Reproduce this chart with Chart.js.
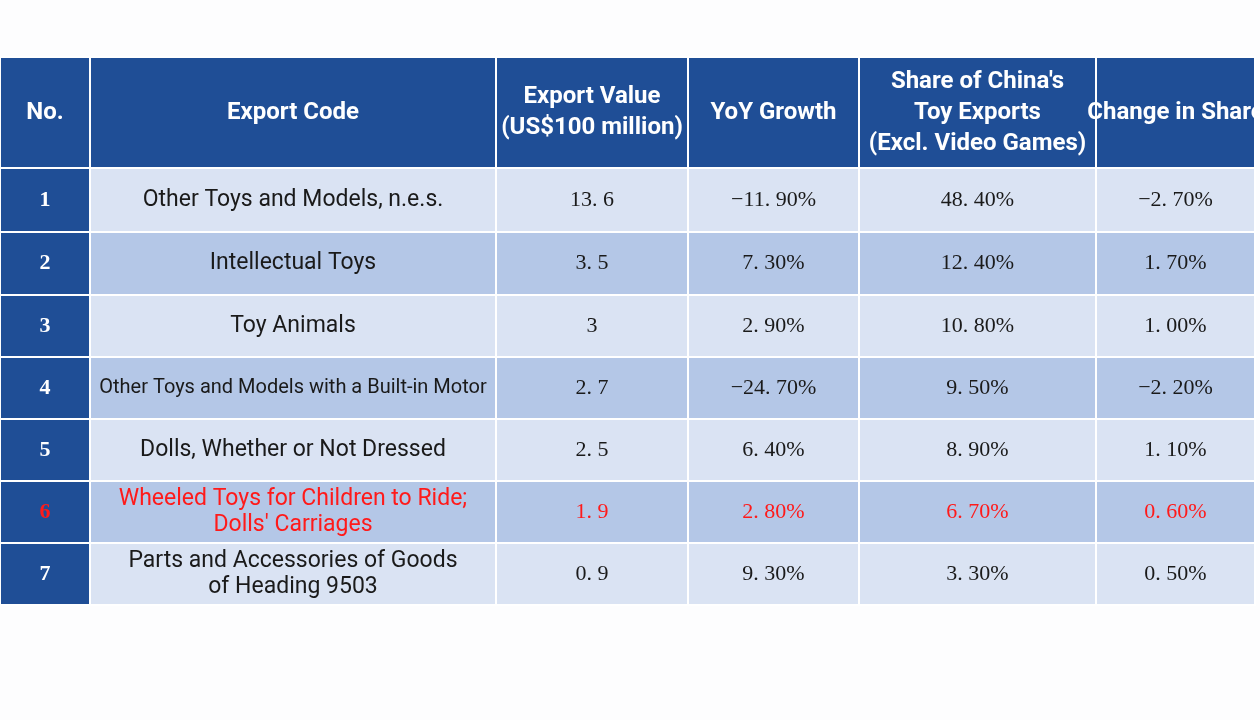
<!DOCTYPE html>
<html><head><meta charset="utf-8">
<script src="https://cdn.jsdelivr.net/npm/chart.js@4"></script>
<style>html,body{margin:0;background:#fdfdfe}#wrap{width:1260px;height:720px}</style>
</head><body><div id="wrap"><canvas id="c"></canvas></div>
<script>
const headers = ["No.", "Export Code", "Export Value\n(US$100 million)", "YoY Growth", "Share of China's\nToy Exports\n(Excl. Video Games)", "Change in Share"];
const rowNo = ["1","2","3","4","5","6","7"];
const exportCode = ["Other Toys and Models, n.e.s.", "Intellectual Toys", "Toy Animals", "Other Toys and Models with a Built-in Motor", "Dolls, Whether or Not Dressed", "Wheeled Toys for Children to Ride;\nDolls' Carriages", "Parts and Accessories of Goods\nof Heading 9503"];
const exportValue = ["13. 6","3. 5","3","2. 7","2. 5","1. 9","0. 9"];
const yoyGrowth = ["−11. 90%","7. 30%","2. 90%","−24. 70%","6. 40%","2. 80%","9. 30%"];
const shareOfExports = ["48. 40%","12. 40%","10. 80%","9. 50%","8. 90%","6. 70%","3. 30%"];
const changeInShare = ["−2. 70%","1. 70%","1. 00%","−2. 20%","1. 10%","0. 60%","0. 50%"];
const highlightRow = 5;

// layout (scale units = pixels)
const colEdges = [0, 90, 496, 688, 859, 1096, 1255];
const rowEdges = [57, 168, 232, 295, 357, 419, 481, 543, 605];

const columns = [rowNo, exportCode, exportValue, yoyGrowth, shareOfExports, changeInShare];

const tablePlugin = {
  id: 'table',
  afterDatasetsDraw(chart) {
    const ctx = chart.ctx, xs = chart.scales.x, ys = chart.scales.y;
    ctx.save();
    for (let r = 0; r < rowEdges.length - 1; r++) {
      const y0 = ys.getPixelForValue(rowEdges[r]), y1 = ys.getPixelForValue(rowEdges[r + 1]);
      for (let c = 0; c < colEdges.length - 1; c++) {
        const x0 = xs.getPixelForValue(colEdges[c]), x1 = xs.getPixelForValue(colEdges[c + 1]);
        let fill;
        if (r === 0 || c === 0) fill = '#1f4e96';
        else fill = (r % 2 === 1) ? '#dae3f3' : '#b4c7e7';
        ctx.fillStyle = fill;
        ctx.fillRect(x0, y0, x1 - x0, y1 - y0);
        ctx.strokeStyle = '#ffffff';
        ctx.lineWidth = 2;
        ctx.strokeRect(x0, y0, x1 - x0, y1 - y0);

        let text, font, color;
        if (r === 0) {
          text = headers[c];
          font = 'bold 24px "Liberation Sans Narrow", "Roboto", sans-serif';
          color = '#ffffff';
        } else {
          const i = r - 1;
          text = columns[c][i];
          if (c === 0) { font = 'bold 22px "Liberation Serif", serif'; }
          else if (c === 1) { font = (i === 3 ? '20px' : '23px') + ' "Liberation Sans Narrow", "Roboto", sans-serif'; }
          else { font = '22px "Liberation Serif", serif'; }
          color = c === 0 ? '#ffffff' : '#1a1a1a';
          if (i === highlightRow) color = '#ff1a1a';
        }
        ctx.font = font;
        ctx.fillStyle = color;
        ctx.textAlign = 'center';
        ctx.textBaseline = 'middle';
        const lines = text.split('\n');
        const lh = r === 0 ? 31 : 26;
        const cx = (x0 + x1) / 2, cy = (y0 + y1) / 2;
        lines.forEach((ln, k) => ctx.fillText(ln, cx, cy + (k - (lines.length - 1) / 2) * lh));
      }
    }
    ctx.restore();
  }
};

new Chart(document.getElementById('c'), {
  type: 'scatter',
  data: { datasets: [{ data: [], pointRadius: 0 }] },
  options: {
    responsive: true, maintainAspectRatio: false, animation: false,
    layout: { padding: 0 },
    plugins: { legend: { display: false }, tooltip: { enabled: false } },
    scales: {
      x: { type: 'linear', min: 0, max: 1260, display: false },
      y: { type: 'linear', min: 0, max: 720, reverse: true, display: false }
    }
  },
  plugins: [tablePlugin]
});
</script></body></html>
